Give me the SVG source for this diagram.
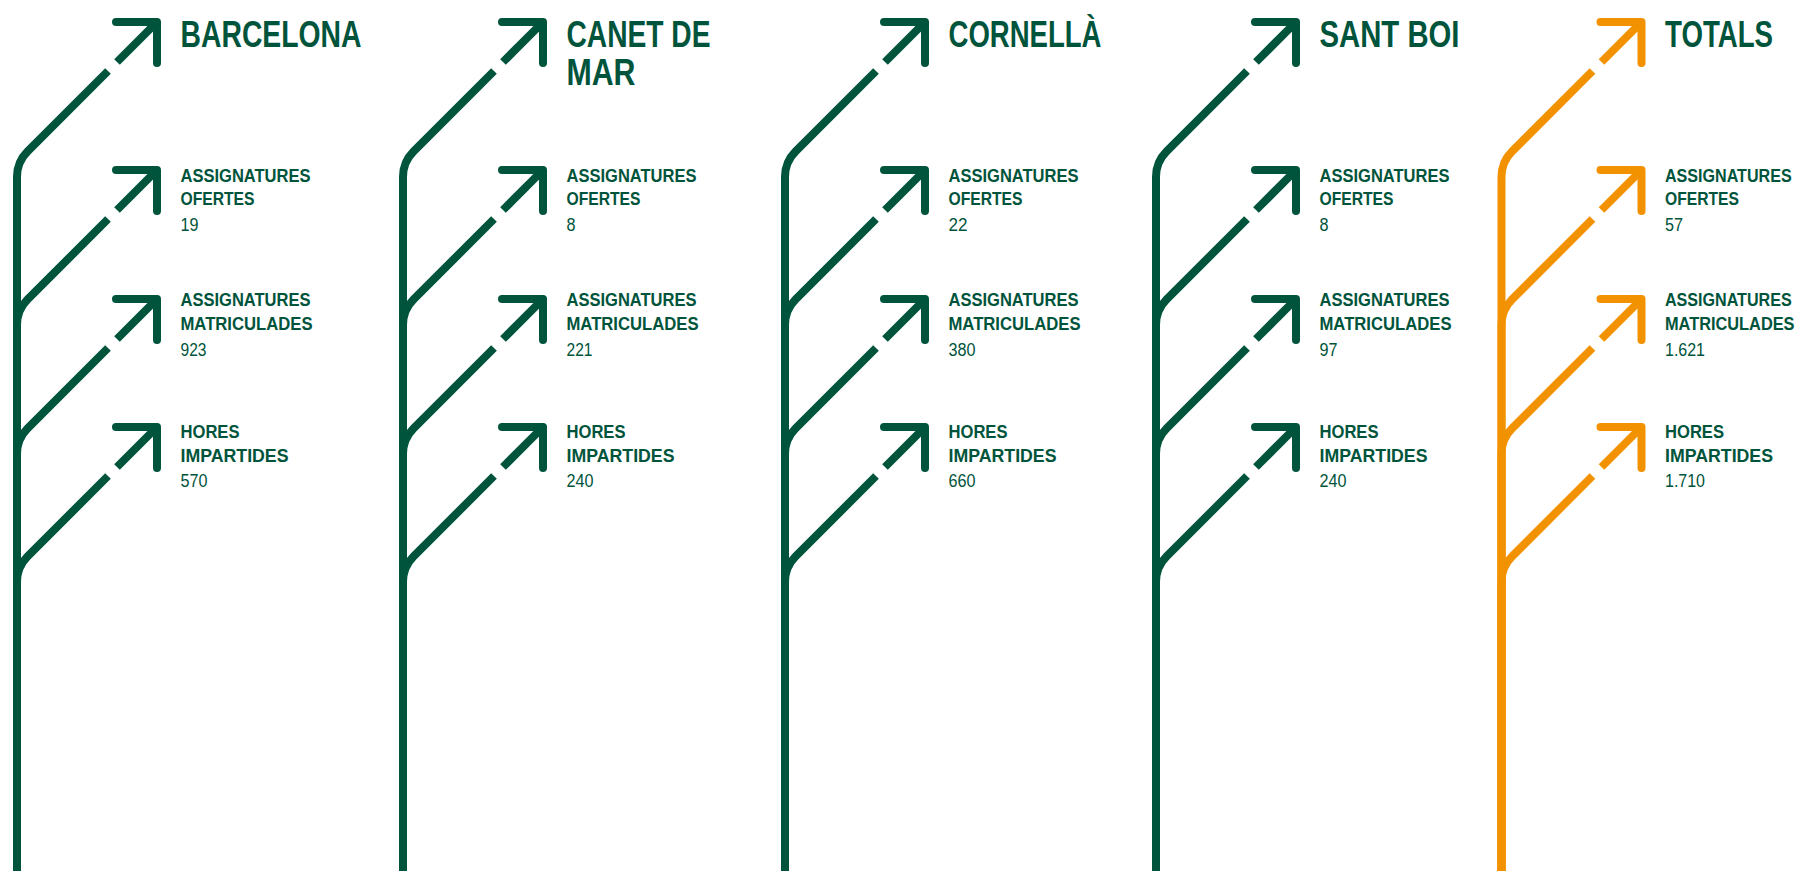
<svg xmlns="http://www.w3.org/2000/svg" xmlns:xlink="http://www.w3.org/1999/xlink" width="1803" height="871" viewBox="0 0 1803 871">
<style>
.arm{fill:none;stroke-width:8;stroke-linecap:round;stroke-linejoin:round}
.dia{fill:none;stroke-width:8;stroke-linecap:butt;stroke-linejoin:round}
.green{stroke:#00543B}
.orange{stroke:#F39200}
text{font-family:"Liberation Sans",Arial,sans-serif;fill:#00543B}
.t{font-weight:700;font-size:36px}
.l{font-weight:700;font-size:19px}
.n{font-weight:400;font-size:18px}
</style>
<defs>
<g id="branch">
<path class="arm" d="M99,0 H140 V41"/>
<path class="dia" d="M140,0 L100,40"/>
<path class="dia" d="M91,49 L10.6,129.4 A36 36 0 0 0 0,155 V880"/>
</g>
<g id="tree">
<use xlink:href="#branch" href="#branch" transform="translate(0,22)"/>
<use xlink:href="#branch" href="#branch" transform="translate(0,170)"/>
<use xlink:href="#branch" href="#branch" transform="translate(0,299)"/>
<use xlink:href="#branch" href="#branch" transform="translate(0,427)"/>
</g>
</defs>
<rect width="1803" height="871" fill="#FFFFFF"/>
<g id="connectors">
<use xlink:href="#tree" href="#tree" class="green" transform="translate(17,0)"/>
<use xlink:href="#tree" href="#tree" class="green" transform="translate(403,0)"/>
<use xlink:href="#tree" href="#tree" class="green" transform="translate(785,0)"/>
<use xlink:href="#tree" href="#tree" class="green" transform="translate(1156,0)"/>
<use xlink:href="#tree" href="#tree" class="orange" transform="translate(1501.5,0)"/>
</g>
<g id="barcelona">
<text class="t" x="180.5" y="47" textLength="181" lengthAdjust="spacingAndGlyphs">BARCELONA</text>
<text class="l" x="180.5" y="182" textLength="130" lengthAdjust="spacingAndGlyphs">ASSIGNATURES</text>
<text class="l" x="180.5" y="205" textLength="74" lengthAdjust="spacingAndGlyphs">OFERTES</text>
<text class="n" x="180.5" y="231" textLength="18" lengthAdjust="spacingAndGlyphs">19</text>
<text class="l" x="180.5" y="306" textLength="130" lengthAdjust="spacingAndGlyphs">ASSIGNATURES</text>
<text class="l" x="180.5" y="330" textLength="132" lengthAdjust="spacingAndGlyphs">MATRICULADES</text>
<text class="n" x="180.5" y="356" textLength="26" lengthAdjust="spacingAndGlyphs">923</text>
<text class="l" x="180.5" y="438" textLength="59" lengthAdjust="spacingAndGlyphs">HORES</text>
<text class="l" x="180.5" y="462" textLength="108" lengthAdjust="spacingAndGlyphs">IMPARTIDES</text>
<text class="n" x="180.5" y="487" textLength="27" lengthAdjust="spacingAndGlyphs">570</text>
</g>
<g id="canet">
<text class="t" x="566.5" y="47" textLength="144" lengthAdjust="spacingAndGlyphs">CANET DE</text>
<text class="t" x="566.5" y="85" textLength="69" lengthAdjust="spacingAndGlyphs">MAR</text>
<text class="l" x="566.5" y="182" textLength="130" lengthAdjust="spacingAndGlyphs">ASSIGNATURES</text>
<text class="l" x="566.5" y="205" textLength="74" lengthAdjust="spacingAndGlyphs">OFERTES</text>
<text class="n" x="566.5" y="231" textLength="9" lengthAdjust="spacingAndGlyphs">8</text>
<text class="l" x="566.5" y="306" textLength="130" lengthAdjust="spacingAndGlyphs">ASSIGNATURES</text>
<text class="l" x="566.5" y="330" textLength="132" lengthAdjust="spacingAndGlyphs">MATRICULADES</text>
<text class="n" x="566.5" y="356" textLength="26" lengthAdjust="spacingAndGlyphs">221</text>
<text class="l" x="566.5" y="438" textLength="59" lengthAdjust="spacingAndGlyphs">HORES</text>
<text class="l" x="566.5" y="462" textLength="108" lengthAdjust="spacingAndGlyphs">IMPARTIDES</text>
<text class="n" x="566.5" y="487" textLength="27" lengthAdjust="spacingAndGlyphs">240</text>
</g>
<g id="cornella">
<text class="t" x="948.5" y="47" textLength="153" lengthAdjust="spacingAndGlyphs">CORNELLÀ</text>
<text class="l" x="948.5" y="182" textLength="130" lengthAdjust="spacingAndGlyphs">ASSIGNATURES</text>
<text class="l" x="948.5" y="205" textLength="74" lengthAdjust="spacingAndGlyphs">OFERTES</text>
<text class="n" x="948.5" y="231" textLength="19" lengthAdjust="spacingAndGlyphs">22</text>
<text class="l" x="948.5" y="306" textLength="130" lengthAdjust="spacingAndGlyphs">ASSIGNATURES</text>
<text class="l" x="948.5" y="330" textLength="132" lengthAdjust="spacingAndGlyphs">MATRICULADES</text>
<text class="n" x="948.5" y="356" textLength="27" lengthAdjust="spacingAndGlyphs">380</text>
<text class="l" x="948.5" y="438" textLength="59" lengthAdjust="spacingAndGlyphs">HORES</text>
<text class="l" x="948.5" y="462" textLength="108" lengthAdjust="spacingAndGlyphs">IMPARTIDES</text>
<text class="n" x="948.5" y="487" textLength="27" lengthAdjust="spacingAndGlyphs">660</text>
</g>
<g id="santboi">
<text class="t" x="1319.5" y="47" textLength="140" lengthAdjust="spacingAndGlyphs">SANT BOI</text>
<text class="l" x="1319.5" y="182" textLength="130" lengthAdjust="spacingAndGlyphs">ASSIGNATURES</text>
<text class="l" x="1319.5" y="205" textLength="74" lengthAdjust="spacingAndGlyphs">OFERTES</text>
<text class="n" x="1319.5" y="231" textLength="9" lengthAdjust="spacingAndGlyphs">8</text>
<text class="l" x="1319.5" y="306" textLength="130" lengthAdjust="spacingAndGlyphs">ASSIGNATURES</text>
<text class="l" x="1319.5" y="330" textLength="132" lengthAdjust="spacingAndGlyphs">MATRICULADES</text>
<text class="n" x="1319.5" y="356" textLength="18" lengthAdjust="spacingAndGlyphs">97</text>
<text class="l" x="1319.5" y="438" textLength="59" lengthAdjust="spacingAndGlyphs">HORES</text>
<text class="l" x="1319.5" y="462" textLength="108" lengthAdjust="spacingAndGlyphs">IMPARTIDES</text>
<text class="n" x="1319.5" y="487" textLength="27" lengthAdjust="spacingAndGlyphs">240</text>
</g>
<g id="totals">
<text class="t" x="1665" y="47" textLength="108" lengthAdjust="spacingAndGlyphs">TOTALS</text>
<text class="l" transform="translate(1665,182) scale(0.85,1)" x="0" y="0" textLength="149" lengthAdjust="spacingAndGlyphs">ASSIGNATURES</text>
<text class="l" x="1665" y="205" textLength="74" lengthAdjust="spacingAndGlyphs">OFERTES</text>
<text class="n" x="1665" y="231" textLength="18" lengthAdjust="spacingAndGlyphs">57</text>
<text class="l" transform="translate(1665,306) scale(0.85,1)" x="0" y="0" textLength="149" lengthAdjust="spacingAndGlyphs">ASSIGNATURES</text>
<text class="l" transform="translate(1665,330) scale(0.83,1)" x="0" y="0" textLength="156" lengthAdjust="spacingAndGlyphs">MATRICULADES</text>
<text class="n" x="1665" y="356" textLength="40" lengthAdjust="spacingAndGlyphs">1.621</text>
<text class="l" x="1665" y="438" textLength="59" lengthAdjust="spacingAndGlyphs">HORES</text>
<text class="l" x="1665" y="462" textLength="108" lengthAdjust="spacingAndGlyphs">IMPARTIDES</text>
<text class="n" x="1665" y="487" textLength="40" lengthAdjust="spacingAndGlyphs">1.710</text>
</g>
</svg>
